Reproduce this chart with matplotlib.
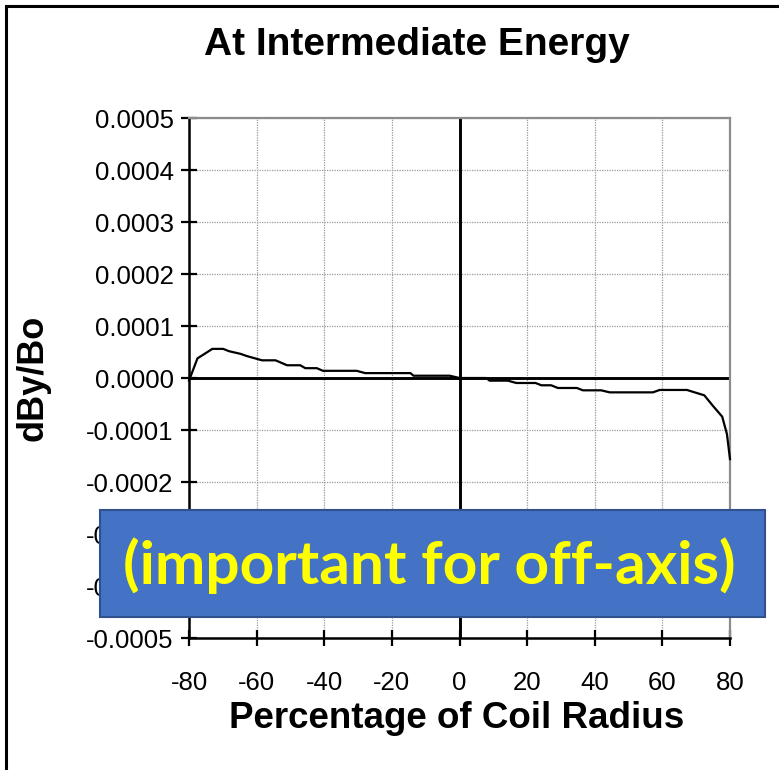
import matplotlib.pyplot as plt
from matplotlib.patches import Rectangle

# field error across the coil aperture
radius_pct = [-80, -77.5, -73.1, -69.9, -68.2, -64.8, -62.8, -58.4, -54.4, -51.0, -47.1,
              -45.6, -42.2, -40.4, -30.4, -27.9, -14.5, -13.6, -2.9, 0,
              7.9, 8.9, 14.3, 16.8, 22.5, 24.2, 27.1, 29.1, 34.7, 36.5, 41.9, 44.4,
              57.2, 59.2, 67.3, 68.0, 72.4, 74.9, 77.7, 79.1, 80]
dby_bo = [-0.000005, 0.0000377, 0.000056, 0.000056, 0.0000516, 0.0000465, 0.000042,
          0.000034, 0.000034, 0.0000245, 0.0000245, 0.0000189, 0.0000189, 0.0000138,
          0.0000138, 0.0000094, 0.0000094, 0.0000044, 0.0000044, 0.0,
          0.0, -0.0000051, -0.0000051, -0.0000096, -0.0000096, -0.000014, -0.000014,
          -0.0000192, -0.0000192, -0.0000237, -0.0000237, -0.0000276, -0.0000276,
          -0.000023, -0.000023, -0.0000245, -0.0000333, -0.0000532, -0.0000744,
          -0.000108, -0.000156]

xticks = [-80, -60, -40, -20, 0, 20, 40, 60, 80]
yticks = [-0.0005, -0.0004, -0.0003, -0.0002, -0.0001, 0.0, 0.0001, 0.0002, 0.0003, 0.0004, 0.0005]
ylabels = ["-0.0005", "-0.0004", "-0.0003", "-0.0002", "-0.0001", "0.0000",
           "0.0001", "0.0002", "0.0003", "0.0004", "0.0005"]

plt.rcParams['font.family'] = ['Liberation Sans', 'DejaVu Sans']

W, H = 779, 770
fig = plt.figure(figsize=(W / 100, H / 100), dpi=100)
ax = fig.add_axes([189 / W, 1 - 638 / H, (730 - 189) / W, (638 - 118) / H])

ax.set_xlim(-80, 80)
ax.set_ylim(-0.0005, 0.0005)
ax.set_xticks(xticks)
ax.set_xticklabels([str(v) for v in xticks])
ax.set_yticks(yticks)
ax.set_yticklabels(ylabels)
ax.grid(True, color='#9a9a9a', linestyle=(0, (1, 1)), linewidth=0.9)
ax.set_axisbelow(True)

ax.axhline(0, color='black', lw=2.1, zorder=2)
ax.axvline(0, color='black', lw=2.1, zorder=2)
ax.plot(radius_pct, dby_bo, color='black', lw=1.6, zorder=3, clip_on=False)

for s in ['left', 'bottom']:
    ax.spines[s].set_linewidth(1.8)
for s in ['top', 'right']:
    ax.spines[s].set_color('#8c8c8c')
    ax.spines[s].set_linewidth(1.6)

ax.tick_params(axis='both', direction='inout', length=12, width=1.6, labelsize=18.5)
ax.tick_params(axis='y', pad=5)
ax.tick_params(axis='x', pad=18)

fig.text(417 / W, 1 - 45 / H, "At Intermediate Energy", fontsize=28, fontweight='bold',
         ha='center', va='center')
fig.text(457 / W, 1 - 718 / H, "Percentage of Coil Radius", fontsize=26.5, fontweight='bold',
         ha='center', va='center')
fig.text(33 / W, 1 - 378 / H, "dBy/Bo", fontsize=26, fontweight='bold',
         ha='center', va='center', rotation=90)

# outer frame (left and top edges visible)
fig.add_artist(Rectangle((6 / W, -0.1), 2, 1 - 6 / H + 0.1, transform=fig.transFigure,
                         fill=False, edgecolor='black', lw=2.2))

# callout box
fig.add_artist(Rectangle((100 / W, 1 - 617 / H), 665 / W, 107 / H, transform=fig.transFigure,
                         facecolor='#4472C4', edgecolor='#2F528F', lw=1.5, zorder=5))
fig.text(429 / W, 1 - 566 / H, "(important for off-axis)", color='#FFFF00',
         fontsize=43.5, fontweight='bold', family=['Lato', 'DejaVu Sans'],
         ha='center', va='center', zorder=6)

fig.savefig("out.png", dpi=100)
